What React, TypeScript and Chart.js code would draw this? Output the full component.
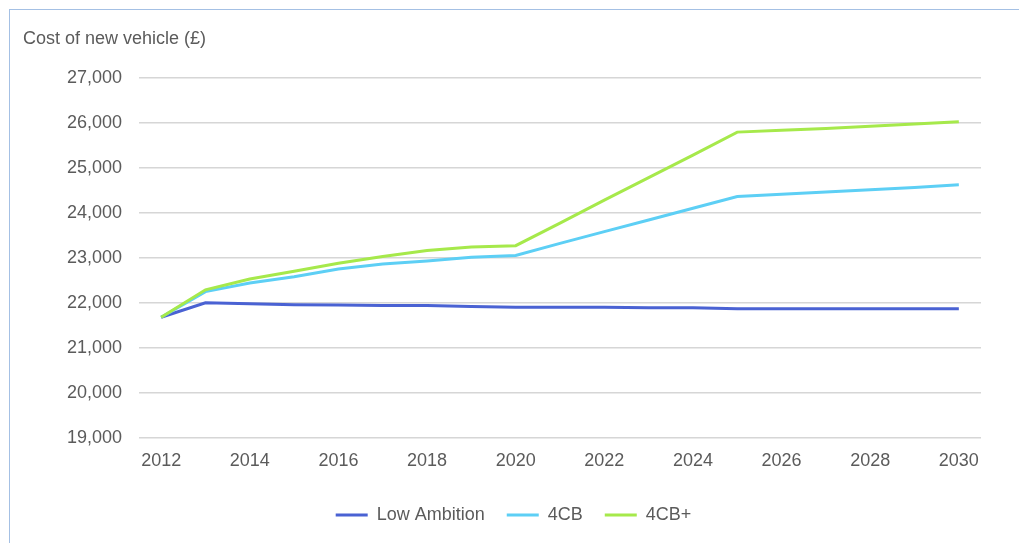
import React, { useEffect, useRef } from "react";
import { Chart, registerables } from "chart.js";

Chart.register(...registerables);

const years = ["2012","2013","2014","2015","2016","2017","2018","2019","2020","2021","2022","2023","2024","2025","2026","2027","2028","2029","2030"];
const lowAmbition = [21680, 22000, 21980, 21960, 21950, 21940, 21940, 21920, 21900, 21900, 21900, 21890, 21890, 21870, 21870, 21870, 21870, 21870, 21870];
const fourCB = [21680, 22250, 22440, 22580, 22750, 22860, 22930, 23010, 23050, 23320, 23580, 23840, 24100, 24360, 24410, 24460, 24510, 24560, 24620];
const fourCBPlus = [21680, 22290, 22530, 22700, 22880, 23030, 23160, 23240, 23270, 23770, 24280, 24780, 25280, 25790, 25830, 25870, 25920, 25970, 26020];
const seriesNames = ["Low Ambition", "4CB", "4CB+"];
const seriesColors = ["#4a62d3", "#5dcff5", "#a6e94b"];
const yMin = 19000;
const yMax = 27000;
const yStep = 1000;
const titleText = "Cost of new vehicle (£)";

const FONT = "'Liberation Sans', Arial, Helvetica, sans-serif";
const TEXT = "#5b5b5b";

export default function App() {
  const ref = useRef<HTMLCanvasElement | null>(null);

  useEffect(() => {
    document.body.style.margin = "0";
    const ctx = ref.current;
    if (!ctx) return;
    const seriesData = [lowAmbition, fourCB, fourCBPlus];
    const chart = new Chart(ctx, {
      type: "line",
      data: {
        labels: years,
        datasets: seriesData.map((d, i) => ({
          label: seriesNames[i],
          data: d,
          borderColor: seriesColors[i],
          backgroundColor: seriesColors[i],
          borderWidth: 3,
          pointRadius: 0,
          tension: 0,
          order: 3 - i,
        })),
      },
      options: {
        animation: false,
        responsive: false,
        maintainAspectRatio: false,
        layout: { padding: { left: 23, right: 15, top: 0, bottom: 9 } },
        plugins: {
          tooltip: { enabled: false },
          title: {
            display: true,
            text: titleText,
            align: "start",
            color: TEXT,
            font: { family: FONT, size: 18, weight: "normal" },
            padding: { top: 28, bottom: 28 },
          },
          legend: {
            position: "bottom",
            labels: {
              boxWidth: 32,
              boxHeight: 3,
              padding: 22,
              color: TEXT,
              font: { family: FONT, size: 18 },
              sort: (a: any, b: any) => a.datasetIndex - b.datasetIndex,
              generateLabels: (c: any) =>
                Chart.defaults.plugins.legend.labels
                  .generateLabels(c)
                  .map((l: any) => ({ ...l, lineWidth: 0 })),
            },
          },
        },
        scales: {
          x: {
            type: "category",
            offset: true,
            grid: { display: false, drawTicks: false },
            border: { display: false },
            ticks: {
              autoSkip: false,
              maxRotation: 0,
              padding: 12,
              color: TEXT,
              font: { family: FONT, size: 18 },
              callback: (_v: any, i: number) => (i % 2 === 0 ? years[i] : ""),
            },
            afterFit: (s: any) => {
              s.height = 46;
            },
          },
          y: {
            min: yMin,
            max: yMax,
            grid: { color: "#d6d6d6", lineWidth: 1.5, drawTicks: false },
            border: { display: false },
            ticks: {
              stepSize: yStep,
              padding: 17,
              color: TEXT,
              font: { family: FONT, size: 18 },
              callback: (v: any) => Number(v).toLocaleString("en-US"),
            },
            afterFit: (s: any) => {
              s.width = 116;
            },
          },
          yRight: {
            position: "right",
            display: true,
            grid: { display: false, drawTicks: false },
            border: { display: false },
            ticks: { display: false },
            afterFit: (s: any) => {
              s.width = 23;
            },
          },
        },
      },
    });
    return () => chart.destroy();
  }, []);

  return (
    <div style={{ position: "relative", width: 1019, height: 543, overflow: "hidden", background: "#fff" }}>
      <div
        style={{
          position: "absolute",
          left: 9,
          top: 9,
          width: 1100,
          height: 600,
          borderLeft: "1px solid #a4c0e4",
          borderTop: "1px solid #a4c0e4",
          boxSizing: "border-box",
        }}
      />
      <canvas ref={ref} width={1019} height={543} style={{ position: "absolute", left: 0, top: 0, width: 1019, height: 543 }} />
    </div>
  );
}
